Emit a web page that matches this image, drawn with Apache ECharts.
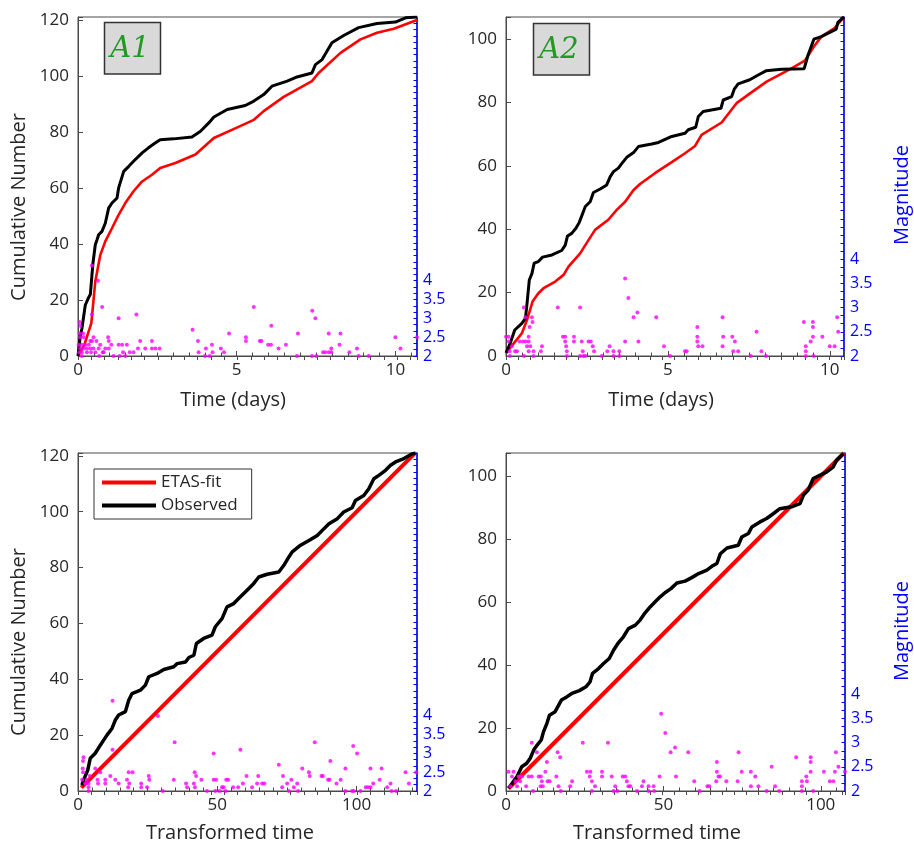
<!DOCTYPE html>
<html>
<head>
<meta charset="utf-8">
<script src="https://cdn.jsdelivr.net/npm/echarts@6/dist/echarts.min.js"></script>
<style>
  html, body { margin: 0; padding: 0; background: #ffffff; }
  #chart { width: 914px; height: 845px; }
</style>
</head>
<body>
<div id="chart"></div>
<script>
// ---- Sequence A1: cumulative number vs time (days) ----
const a1Observed = [[0,0],[0.07,7],[0.125,9.9],[0.23,18.2],[0.34,21],[0.39,22],[0.44,29],[0.47,33],[0.545,39.7],[0.6,41.5],[0.65,43.3],[0.755,44.5],[0.86,47.4],[0.965,52.8],[1.07,54.6],[1.23,56.4],[1.28,60],[1.44,65.9],[1.6,67.7],[1.75,69.5],[2.02,72.5],[2.22,74.3],[2.43,76],[2.59,77.2],[3.01,77.5],[3.59,78.2],[3.86,80.2],[4.12,83.2],[4.28,85.3],[4.7,88],[5.27,89.4],[5.54,91],[5.85,93.3],[6.11,96.3],[6.59,98.1],[6.9,99.6],[7.37,101],[7.48,104],[7.69,105.8],[8.0,111.8],[8.37,114.4],[8.84,117.2],[9.42,118.7],[10.0,119.2],[10.32,120.7],[10.68,121]];
const a1Fit = [[0,0],[0.2,4],[0.42,11.7],[0.545,26.6],[0.7,36],[0.86,40.9],[1.07,45.6],[1.28,50.4],[1.49,54.6],[1.75,58.8],[2.02,62.3],[2.33,64.7],[2.59,67.1],[3.07,68.9],[3.7,71.9],[4.28,77.8],[4.9,81],[5.54,84.3],[5.85,87.4],[6.48,92.5],[7.37,98.1],[7.58,101],[8.27,108.2],[8.9,113],[9.42,115.4],[9.95,116.8],[10.68,119.9]];
const a1Mag = [[0.02,2.3],[0.04,2.1],[0.05,2.9],[0.07,2.8],[0.05,2.6],[0.07,2.5],[0.07,2.2],[0.12,2.0],[0.12,2.1],[0.12,2.3],[0.16,2.6],[0.18,2.5],[0.18,2.2],[0.23,2.3],[0.28,2.2],[0.28,2.1],[0.34,2.3],[0.39,2.4],[0.39,2.2],[0.41,2.1],[0.44,2.4],[0.44,3.1],[0.44,4.4],[0.49,2.5],[0.49,2.2],[0.55,2.1],[0.58,2.4],[0.63,4.0],[0.65,2.2],[0.67,2.0],[0.7,2.3],[0.76,3.3],[0.78,2.1],[0.81,2.1],[0.86,2.2],[0.95,2.5],[0.97,2.4],[0.97,2.2],[1.05,2.3],[1.12,2.0],[1.28,3.0],[1.28,2.3],[1.31,2.0],[1.39,2.3],[1.42,2.1],[1.49,2.0],[1.54,2.3],[1.63,2.1],[1.75,2.1],[1.84,3.1],[1.89,2.2],[1.96,2.4],[2.12,2.2],[2.33,2.4],[2.33,2.2],[2.44,2.2],[2.57,2.2],[3.61,2.7],[3.78,2.4],[3.8,2.1],[4.0,2.0],[4.03,2.2],[4.15,2.0],[4.22,2.3],[4.24,2.1],[4.5,2.2],[4.6,2.1],[4.76,2.6],[5.29,2.5],[5.29,2.4],[5.54,3.3],[5.73,2.4],[5.78,2.4],[5.99,2.3],[6.08,2.3],[6.09,2.8],[6.32,2.2],[6.55,2.3],[6.9,2.0],[6.93,2.6],[7.37,2.0],[7.38,3.2],[7.48,3.0],[7.51,2.0],[7.72,2.1],[7.79,2.1],[7.9,2.1],[7.9,2.6],[7.98,2.2],[7.98,2.1],[8.24,2.3],[8.27,2.6],[8.55,2.1],[8.79,2.2],[8.84,2.0],[9.16,2.0],[10.0,2.5],[10.16,2.2],[10.68,2.5]];

// ---- Sequence A2: cumulative number vs time (days) ----
const a2Observed = [[0,1],[0.13,4],[0.27,8.2],[0.49,10.3],[0.6,11.9],[0.65,16.6],[0.72,24],[0.8,26],[0.87,29.3],[1.0,29.8],[1.13,31.2],[1.42,31.9],[1.72,33.3],[1.83,35],[1.9,37.9],[2.03,38.7],[2.16,40.3],[2.26,42.1],[2.45,47.2],[2.6,48.7],[2.7,51.6],[2.91,52.7],[3.11,54],[3.22,56.6],[3.32,58.2],[3.47,59.3],[3.58,60.8],[3.73,62.7],[3.94,64.2],[4.09,66.1],[4.5,66.9],[4.71,67.4],[5.12,69.3],[5.53,70.3],[5.63,71.4],[5.86,72.2],[5.94,75.6],[6.09,77.2],[6.64,78.2],[6.71,80.8],[6.97,81.9],[7.05,84.2],[7.17,85.9],[7.53,87.2],[7.79,88.7],[8.03,90],[8.51,90.5],[9.21,90.7],[9.33,95],[9.51,100],[9.74,100.8],[10.2,103.2],[10.25,105.3],[10.44,107]];
const a2Fit = [[0,1],[0.24,4],[0.49,7.2],[0.65,11.4],[0.82,17.2],[1.0,19.8],[1.16,21.4],[1.52,23.5],[1.78,25.6],[1.93,28.2],[2.29,32.4],[2.45,35],[2.75,39.8],[3.16,43],[3.42,46.1],[3.68,48.7],[3.94,52.4],[4.14,54.3],[4.6,57.7],[5.12,61.2],[5.53,64],[5.84,66.3],[6.04,69.8],[6.66,73.7],[7.12,79.8],[7.69,84],[8.05,86.6],[8.82,90.8],[9.23,93.2],[9.51,97.7],[9.74,100.8],[10.15,103.5],[10.44,107]];
const a2Mag = [[0.0,2.4],[0.08,2.4],[0.08,2.3],[0.18,2.2],[0.28,2.1],[0.11,2.1],[0.12,2.0],[0.34,2.1],[0.42,2.3],[0.52,2.3],[0.55,3.0],[0.6,2.3],[0.6,2.8],[0.7,2.3],[0.7,2.4],[0.73,2.6],[0.8,2.8],[0.82,2.7],[0.65,2.2],[0.75,2.2],[0.7,2.1],[0.85,2.1],[0.56,2.0],[0.85,2.0],[1.11,2.2],[1.08,2.1],[1.6,3.0],[1.76,2.4],[1.83,2.4],[1.83,2.3],[1.86,2.2],[1.88,2.1],[1.88,2.0],[2.1,2.4],[2.1,2.3],[2.29,3.0],[2.34,2.3],[2.37,2.1],[2.29,2.0],[2.39,2.0],[2.45,2.0],[2.55,2.3],[2.62,2.3],[2.68,2.2],[2.72,2.1],[2.96,2.0],[3.13,2.1],[3.2,2.2],[3.32,2.1],[3.32,2.0],[3.5,2.1],[3.5,2.0],[3.68,3.6],[3.78,3.2],[3.68,2.3],[3.94,2.8],[4.06,2.9],[4.09,2.3],[4.64,2.8],[4.88,2.2],[5.07,2.0],[5.53,2.1],[5.58,2.1],[5.91,2.6],[5.91,2.4],[5.91,2.3],[5.94,2.2],[6.07,2.2],[6.69,2.8],[6.71,2.4],[6.69,2.2],[6.99,2.4],[7.07,2.3],[7.02,2.1],[7.17,2.1],[7.56,2.0],[7.74,2.5],[7.89,2.1],[8.03,2.0],[9.2,2.7],[9.26,2.2],[9.26,2.1],[9.26,2.0],[9.41,2.3],[9.48,2.7],[9.48,2.6],[9.48,2.4],[9.5,2.0],[9.77,2.4],[10.0,2.2],[10.15,2.2],[10.23,2.8],[10.26,2.5],[10.46,2.4]];

// ---- Sequence A1 in transformed time ----
const b1Observed = [[1.4,2.1],[2.0,3.9],[3.5,7.5],[4.4,11.7],[6.2,13.5],[8.0,16.4],[10.4,20],[12.2,22.4],[13.4,25.4],[14.6,27.2],[17,28.4],[18.2,32.5],[19.4,34.9],[22.4,36.1],[24.2,37.9],[25.4,40.9],[28.4,42.1],[30.8,43.5],[34.4,44.5],[35.6,45.6],[38.6,46.2],[39.8,47.8],[41.6,48.6],[42.5,52.8],[45.1,54.6],[48.1,55.8],[49.3,58.8],[51.7,61.7],[53.5,65.9],[55.9,67.1],[58.3,69.5],[60.7,71.9],[63.1,74.3],[64.9,76.6],[67.9,77.6],[72.1,78.4],[73.9,80.8],[75.7,83.8],[76.9,85.6],[79.9,88],[82.9,89.7],[85.9,91.5],[87.7,93.3],[90.1,95.7],[93.1,97.5],[95.4,99.9],[98.4,101.4],[99.6,104],[102.6,105.8],[104.4,108.2],[106.2,111.8],[108,113],[110.4,114.8],[112.2,116.6],[114,117.8],[117,119],[120,120.7],[121.2,121]];
const b1Fit = [[1.2,1.2],[120.8,120.8]];
const b1Mag = [[1.5,2.3],[2.0,2.9],[1.8,2.8],[1.7,2.6],[1.8,2.5],[3.2,2.3],[3.8,2.2],[2.6,2.2],[3.8,2.1],[3.8,2.0],[4.2,2.4],[6.2,2.6],[8.0,2.5],[7.2,2.2],[7.0,2.3],[9.8,2.2],[9.8,2.3],[11.6,2.4],[12.4,4.4],[12.4,3.1],[13.4,2.3],[14.6,2.2],[18.2,2.5],[19.6,2.5],[17.6,2.3],[18.4,2.2],[18.0,2.1],[22.7,2.2],[22.7,2.1],[25.4,2.4],[25.6,2.3],[24.8,2.1],[28.7,4.0],[30.4,2.0],[34.4,2.3],[34.7,3.3],[38.8,2.2],[39.2,2.1],[41.9,2.5],[42.4,2.4],[41.6,2.2],[42.0,2.1],[44.3,2.3],[46.3,2.0],[48.7,3.0],[48.7,2.3],[49.6,2.3],[49.3,2.0],[50.8,2.0],[51.7,2.1],[52.3,2.1],[53.2,2.3],[53.9,2.3],[53.0,2.0],[55.7,2.1],[57.5,2.1],[58.3,3.1],[59.2,2.2],[60.5,2.4],[62.5,2.1],[64.3,2.2],[64.7,2.4],[66.1,2.2],[66.9,2.2],[72.1,2.7],[73.3,2.1],[73.6,2.4],[75.1,2.2],[75.7,2.0],[76.6,2.3],[77.5,2.1],[78.7,2.2],[79.0,2.0],[80.5,2.6],[82.9,2.5],[83.2,2.4],[85.0,3.3],[87.4,2.4],[87.9,2.4],[89.8,2.3],[90.3,2.3],[90.6,2.8],[92.8,2.2],[94.3,2.3],[96.0,2.6],[96.0,2.0],[98.4,2.0],[99.0,2.0],[98.8,3.2],[100.2,3.0],[101.4,2.0],[103.3,2.1],[104.1,2.1],[105.0,2.1],[105.0,2.6],[106.0,2.2],[108.3,2.3],[109.0,2.6],[111.0,2.1],[112.2,2.2],[112.6,2.0],[114.2,2.0],[117.6,2.5],[118.8,2.2],[121.4,2.5]];

// ---- Sequence A2 in transformed time ----
const b2Observed = [[0.8,0.9],[1.9,2.4],[3.5,4.6],[5.0,7.7],[6.6,8.8],[7.7,10.4],[8.8,13],[9.9,14.6],[11.2,16.2],[11.9,18.8],[13.0,21.5],[13.8,24.1],[15.6,25.2],[17.6,28.9],[19.3,29.9],[20.9,31],[23.3,31.9],[25.4,33.1],[26.7,34.7],[27.5,37.4],[29.4,38.9],[31.0,40.5],[32.8,42.1],[34.2,44.8],[35.7,47.1],[37.3,49],[38.9,51.6],[41.1,52.7],[42.6,54.3],[44.2,56.6],[45.8,58.5],[47.4,60.1],[49.0,61.7],[50.5,63],[52.4,64.3],[54.3,66.1],[56.9,66.7],[59.0,67.8],[61.2,69.1],[63.8,70.2],[65.4,71.4],[67.0,72.3],[68.1,75.4],[70.2,77.2],[73.8,78.1],[74.9,80.7],[77.0,81.8],[78.1,83.9],[80.7,85.5],[82.8,86.6],[84.9,88.1],[87.0,89.7],[90.7,90.3],[93.4,91.3],[94.5,94],[96.0,95.6],[97.6,99.3],[100.3,100.6],[101.9,101.4],[104.0,103],[105.0,105.1],[107.2,107.2]];
const b2Fit = [[0.8,0.8],[107.4,107.4]];
const b2Mag = [[0.8,2.4],[2.4,2.4],[1.9,2.3],[4.0,2.3],[4.5,2.3],[5.1,2.3],[3.0,2.2],[4.5,2.2],[3.5,2.1],[1.4,2.1],[6.4,2.1],[7.2,2.3],[8.2,2.3],[8.2,3.0],[8.6,2.0],[9.8,2.8],[10.4,2.3],[11.1,2.3],[11.4,2.2],[11.0,2.1],[11.7,2.1],[12.5,2.4],[13.0,2.6],[13.2,2.2],[13.9,2.2],[16.0,2.3],[16.4,2.8],[17.2,2.7],[16.7,2.1],[17.4,2.0],[20.4,2.1],[21.0,2.2],[24.4,3.0],[25.7,2.4],[26.8,2.4],[26.6,2.3],[27.3,2.2],[27.3,2.0],[28.3,2.1],[30.5,2.4],[30.5,2.3],[32.4,3.0],[33.6,2.3],[34.7,2.1],[34.2,2.0],[35.4,2.0],[37.1,2.3],[37.9,2.3],[38.4,2.2],[38.9,2.1],[39.5,2.1],[41.6,2.0],[43.2,2.1],[43.7,2.2],[45.3,2.1],[45.3,2.0],[46.9,2.1],[47.1,2.0],[48.8,2.3],[49.3,3.6],[50.6,3.2],[52.3,2.8],[53.7,2.9],[54.0,2.3],[57.9,2.8],[59.8,2.2],[61.5,2.0],[64.0,2.1],[64.6,2.1],[67.0,2.6],[67.0,2.4],[66.8,2.2],[67.5,2.3],[68.0,2.3],[70.0,2.2],[73.9,2.8],[73.6,2.2],[74.9,2.4],[77.8,2.4],[77.8,2.1],[79.2,2.3],[80.2,2.1],[82.8,2.0],[84.4,2.5],[85.5,2.1],[86.8,2.0],[92.2,2.7],[94.0,2.2],[94.0,2.1],[94.0,2.0],[95.4,2.3],[95.6,2.2],[96.8,2.7],[96.8,2.6],[96.8,2.4],[97.6,2.0],[101.0,2.4],[102.9,2.2],[104.0,2.2],[104.5,2.4],[104.8,2.8],[105.6,2.5],[107.7,2.4]];

// Axis text
const panelTags = ['A1', 'A2'];
const seriesNames = ['ETAS-fit', 'Observed'];
const cumulativeTitle = 'Cumulative Number';
const magnitudeTitle = 'Magnitude';
const timeTitle = 'Time (days)';
const transformedTitle = 'Transformed time';
const magLabelMax = 4;   // magnitude labels are printed from 2 up to 4

const FONT = '"Open Sans", "Noto Sans", sans-serif';
const INK = '#262626';
const FRAME = '#4a4a4a';
const BLUE = '#0000ff';

const panels = [
  { box: { left: 78,  top: 17,  width: 339, height: 339 }, xMax: 10.68, xStep: 5,  yMax: 121, mMax: 11, topMax: 25.5, obs: a1Observed, fit: a1Fit, mag: a1Mag, fitW: 2.6, obsW: 3 },
  { box: { left: 506, top: 17,  width: 338, height: 339 }, xMax: 10.44, xStep: 5,  yMax: 107, mMax: 9,  topMax: 28.2, obs: a2Observed, fit: a2Fit, mag: a2Mag, fitW: 2.6, obsW: 3 },
  { box: { left: 78,  top: 453, width: 339, height: 338 }, xMax: 121.7, xStep: 50, yMax: 121, mMax: 11, topMax: 25.5, obs: b1Observed, fit: b1Fit, mag: b1Mag, fitW: 4,   obsW: 3.5 },
  { box: { left: 506, top: 453, width: 339, height: 338 }, xMax: 107.7, xStep: 50, yMax: 107.4, mMax: 9, topMax: 28.2, obs: b2Observed, fit: b2Fit, mag: b2Mag, fitW: 4, obsW: 3.5 }
];

const grid = [], xAxis = [], yAxis = [], series = [];

panels.forEach((p, i) => {
  grid.push(Object.assign({ show: true, borderColor: FRAME, borderWidth: 1, backgroundColor: 'transparent', containLabel: false }, p.box));

  // bottom value axis
  xAxis.push({
    type: 'value', gridIndex: i, position: 'bottom', min: 0, max: p.xMax, interval: p.xStep,
    axisLine: { show: true, onZero: false, lineStyle: { color: FRAME, width: 1 } },
    axisTick: { show: true, inside: true, length: 5, lineStyle: { color: FRAME } },
    minorTick: { show: true, splitNumber: 10, length: 3.5, lineStyle: { color: FRAME } },
    axisLabel: { margin: 6, fontSize: 17, color: INK, fontFamily: FONT,
      formatter: v => (Math.abs(v / p.xStep - Math.round(v / p.xStep)) < 1e-6 ? String(Math.round(v)) : '') },
    splitLine: { show: false }
  });
  // top edge ticks
  xAxis.push({
    type: 'value', gridIndex: i, position: 'top', min: 0, max: p.topMax, interval: 1,
    axisLine: { show: false },
    axisTick: { show: true, inside: true, length: 4, lineStyle: { color: FRAME } },
    axisLabel: { show: false }, splitLine: { show: false }
  });
  // cumulative number
  yAxis.push({
    type: 'value', gridIndex: i, position: 'left', min: 0, max: p.yMax, interval: 20,
    axisLine: { show: true, onZero: false, lineStyle: { color: FRAME, width: 1 } },
    axisTick: { show: true, inside: true, length: 5, lineStyle: { color: FRAME } },
    axisLabel: { margin: 9, fontSize: 17, color: INK, fontFamily: FONT,
      formatter: v => (v % 20 === 0 ? String(v) : '') },
    splitLine: { show: false }
  });
  // magnitude
  yAxis.push({
    type: 'value', gridIndex: i, position: 'right', min: 2, max: p.mMax, interval: 0.5,
    axisLine: { show: true, onZero: false, lineStyle: { color: BLUE, width: 1.5 } },
    axisTick: { show: true, inside: true, length: 3.5, lineStyle: { color: BLUE } },
    minorTick: { show: true, splitNumber: 3, length: 3.5, lineStyle: { color: BLUE } },
    axisLabel: { margin: 6, fontSize: 16, color: BLUE, fontFamily: FONT,
      formatter: v => (v <= magLabelMax + 1e-9 ? String(v) : '') },
    splitLine: { show: false }
  });

  series.push({
    type: 'line', name: seriesNames[0], xAxisIndex: 2 * i, yAxisIndex: 2 * i, data: p.fit,
    showSymbol: false, symbol: 'none', lineStyle: { color: '#ff0000', width: p.fitW },
    itemStyle: { color: '#ff0000' }, z: 2, silent: true
  });
  series.push({
    type: 'line', name: seriesNames[1], xAxisIndex: 2 * i, yAxisIndex: 2 * i, data: p.obs,
    showSymbol: false, symbol: 'none', lineStyle: { color: '#000000', width: p.obsW },
    itemStyle: { color: '#000000' }, z: 3, silent: true
  });
  series.push({
    type: 'scatter', name: magnitudeTitle, xAxisIndex: 2 * i, yAxisIndex: 2 * i + 1, data: p.mag,
    symbol: 'circle', symbolSize: 4, itemStyle: { color: '#ff00ff' }, z: 4, silent: true
  });
});

const titleStyle = { fontSize: 20, fontFamily: FONT, fill: INK, textAlign: 'center', textVerticalAlign: 'middle' };
const graphic = [
  // panel tags
  { type: 'rect', shape: { x: 104.5, y: 22.5, width: 56, height: 51.5 }, style: { fill: '#d9d9d9', stroke: '#333333', lineWidth: 1.5 }, z: 10 },
  { type: 'text', x: 130, y: 49, style: { text: panelTags[0], font: 'italic 29px "DejaVu Serif", serif', fill: '#229922', textAlign: 'center', textVerticalAlign: 'middle' }, z: 11 },
  { type: 'rect', shape: { x: 533.5, y: 23.5, width: 56, height: 51.5 }, style: { fill: '#d9d9d9', stroke: '#333333', lineWidth: 1.5 }, z: 10 },
  { type: 'text', x: 559, y: 50, style: { text: panelTags[1], font: 'italic 29px "DejaVu Serif", serif', fill: '#229922', textAlign: 'center', textVerticalAlign: 'middle' }, z: 11 },
  // axis titles
  { type: 'text', x: 19, y: 207, rotation: Math.PI / 2, style: Object.assign({ text: cumulativeTitle }, titleStyle) },
  { type: 'text', x: 19, y: 642, rotation: Math.PI / 2, style: Object.assign({ text: cumulativeTitle }, titleStyle) },
  { type: 'text', x: 233, y: 400, style: Object.assign({ text: timeTitle }, titleStyle) },
  { type: 'text', x: 661, y: 400, style: Object.assign({ text: timeTitle }, titleStyle) },
  { type: 'text', x: 230, y: 833, style: Object.assign({ text: transformedTitle }, titleStyle) },
  { type: 'text', x: 657, y: 833, style: Object.assign({ text: transformedTitle }, titleStyle) },
  { type: 'text', x: 902, y: 195, rotation: Math.PI / 2, style: Object.assign({}, titleStyle, { text: magnitudeTitle, fill: BLUE }) },
  { type: 'text', x: 902, y: 631, rotation: Math.PI / 2, style: Object.assign({}, titleStyle, { text: magnitudeTitle, fill: BLUE }) }
];

const chart = echarts.init(document.getElementById('chart'), null, { renderer: 'canvas' });
chart.setOption({
  animation: false,
  backgroundColor: '#ffffff',
  grid, xAxis, yAxis, series, graphic,
  legend: {
    data: seriesNames, left: 94, top: 469, orient: 'vertical',
    icon: 'rect', itemWidth: 54, itemHeight: 4, itemGap: 6,
    padding: [5, 14, 5, 8], borderColor: '#333333', borderWidth: 1, backgroundColor: '#ffffff',
    textStyle: { fontSize: 17, color: INK, fontFamily: FONT },
    selectedMode: false
  }
});
</script>
</body>
</html>
